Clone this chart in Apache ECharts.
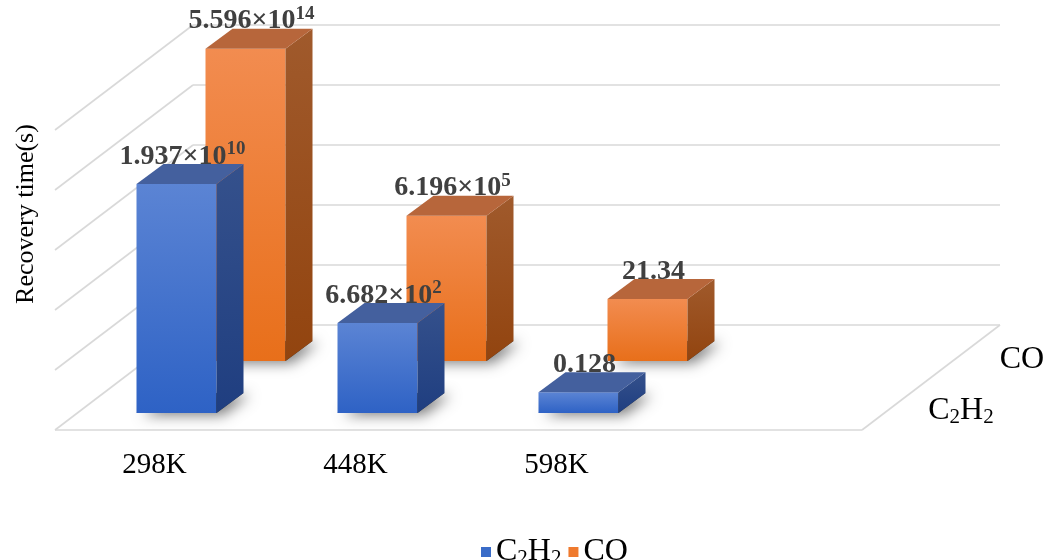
<!DOCTYPE html>
<html>
<head>
<meta charset="utf-8">
<script src="https://cdn.jsdelivr.net/npm/echarts@6/dist/echarts.min.js"></script>
<style>
  html, body { margin: 0; padding: 0; background: #fff; }
  #main { width: 1046px; height: 560px; }
</style>
</head>
<body>
<div id="main"></div>
<script>
// 数据
const categories = ['298K', '448K', '598K'];
const rowNames = ['C2H2', 'CO'];
const c2h2Values = [1.937e10, 668.2, 0.128];
const coValues = [5.596e14, 6.196e5, 21.34];
// 柱顶标签（科学计数法，上标用 rich 的 sup）
const c2h2Labels = ['1.937×10{sup|10}', '6.682×10{sup|2}', '0.128'];
const coLabels = ['5.596×10{sup|14}', '6.196×10{sup|5}', '21.34'];

const SERIF = '"Liberation Serif", "Times New Roman", serif';
const BAR_W = 80;            // 柱子正面宽度
const DEPTH = [27, -20];     // 柱子厚度（斜投影）
const ROW_SHIFT = [69, -52]; // 后排（CO）相对前排的偏移

// 地板 + 两面墙
const FLOOR = { x0: 55, x1: 862, y: 430, dx: 138, dy: -105 };
const WALL_STEP = 60;
const WALL_LINES = 5;
const LINE_COLOR = '#d9d9d9';

const PALETTE = {
  C2H2: {
    legend: '#3a6cc8',
    front: ['#5b84d4', '#2e62c5'],
    side: ['#35518c', '#1f3e80'],
    top: '#44609e',
  },
  CO: {
    legend: '#ef7a2e',
    front: ['#f28c50', '#e86f1a'],
    side: ['#a05a2c', '#92440f'],
    top: '#b7663b',
  },
};

function vGrad(stops) {
  return new echarts.graphic.LinearGradient(0, 0, 0, 1, [
    { offset: 0, color: stops[0] },
    { offset: 1, color: stops[1] },
  ]);
}

function subRich(size) {
  return {
    a: { fontFamily: SERIF, fontSize: size, lineHeight: size + 2, color: '#000' },
    s: { fontFamily: SERIF, fontSize: Math.round(size * 0.65), lineHeight: 10, verticalAlign: 'bottom', color: '#000' },
  };
}
function chemText(name) {
  return name === 'C2H2' ? '{a|C}{s|2}{a|H}{s|2}' : '{a|' + name + '}';
}

function frameGraphics() {
  const els = [];
  const line = (x1, y1, x2, y2) => els.push({
    type: 'line', silent: true, z: 0,
    shape: { x1, y1, x2, y2 },
    style: { stroke: LINE_COLOR, lineWidth: 1.6 },
  });
  const bx = FLOOR.x0 + FLOOR.dx;
  const by = FLOOR.y + FLOOR.dy;
  line(FLOOR.x0, FLOOR.y, FLOOR.x1, FLOOR.y);
  line(FLOOR.x1, FLOOR.y, FLOOR.x1 + FLOOR.dx, by);
  for (let k = 0; k <= WALL_LINES; k++) {
    const off = k * WALL_STEP;
    line(bx, by - off, FLOOR.x1 + FLOOR.dx, by - off);
    line(FLOOR.x0, FLOOR.y - off, bx, by - off);
  }
  return els;
}

function barRenderer(shift, pal, texts) {
  return function (params, api) {
    const top = api.coord([api.value(0), api.value(1)]);
    const cs = params.coordSys;
    const cx = top[0] + shift[0];
    const x0 = cx - BAR_W / 2;
    const x1 = cx + BAR_W / 2;
    const yb = cs.y + cs.height + shift[1];
    const yt = top[1] + shift[1];
    const dx = DEPTH[0], dy = DEPTH[1];
    return {
      type: 'group',
      children: [
        { // 地面阴影：底面本身被柱体挡住，只露出模糊的投影
          type: 'polygon',
          shape: { points: [[x0, yb], [x1, yb], [x1 + dx, yb + dy], [x0 + dx, yb + dy]] },
          style: { fill: 'rgba(0,0,0,0.7)', shadowBlur: 14, shadowColor: 'rgba(0,0,0,0.75)', shadowOffsetX: 6, shadowOffsetY: 2 },
        },
        {
          type: 'rect',
          shape: { x: x0, y: yt, width: BAR_W, height: yb - yt },
          style: { fill: vGrad(pal.front) },
        },
        {
          type: 'polygon',
          shape: { points: [[x1, yb], [x1, yt], [x1 + dx, yt + dy], [x1 + dx, yb + dy]] },
          style: { fill: vGrad(pal.side) },
        },
        {
          type: 'polygon',
          shape: { points: [[x0, yt], [x1, yt], [x1 + dx, yt + dy], [x0 + dx, yt + dy]] },
          style: { fill: pal.top },
        },
        {
          type: 'text',
          x: cx + 6,
          y: yt + dy + 9,
          style: {
            text: texts[params.dataIndex],
            align: 'center',
            verticalAlign: 'bottom',
            fill: '#404040',
            font: 'bold 28px ' + SERIF,
            lineHeight: 33,
            rich: {
              sup: { fontFamily: SERIF, fontWeight: 'bold', fontSize: 19, lineHeight: 19, verticalAlign: 'top', fill: '#404040' },
            },
          },
        },
      ],
    };
  };
}

const chart = echarts.init(document.getElementById('main'));

chart.setOption({
  animation: false,
  backgroundColor: '#fff',
  grid: { left: 76, top: 96, width: 603, height: 317, outerBoundsMode: 'none' },
  xAxis: {
    type: 'category',
    data: categories,
    axisLine: { show: false },
    axisTick: { show: false },
    axisLabel: {
      margin: 38,
      padding: [0, 44, 0, 0],
      fontFamily: SERIF,
      fontSize: 29,
      color: '#000',
    },
  },
  yAxis: {
    type: 'log',
    min: 0.01,
    max: 1e15,
    axisLine: { show: false },
    axisTick: { show: false },
    axisLabel: { show: false },
    splitLine: { show: false },
  },
  legend: {
    data: rowNames,
    left: 476,
    top: 531,
    icon: 'rect',
    itemWidth: 10,
    itemHeight: 10,
    itemGap: 7,
    formatter: chemText,
    textStyle: { rich: subRich(32) },
  },
  graphic: [
    ...frameGraphics(),
    {
      type: 'text', x: 26, y: 214, rotation: Math.PI / 2,
      style: { text: 'Recovery time(s)', font: '26px ' + SERIF, fill: '#000', align: 'center', verticalAlign: 'middle' },
    },
    {
      type: 'text', x: 1022, y: 360,
      style: { text: chemText('CO'), rich: subRich(32), align: 'center', verticalAlign: 'middle' },
    },
    {
      type: 'text', x: 961, y: 411,
      style: { text: chemText('C2H2'), rich: subRich(32), align: 'center', verticalAlign: 'middle' },
    },
  ],
  series: [
    {
      name: 'CO',
      type: 'custom',
      z: 10,
      itemStyle: { color: PALETTE.CO.legend },
      renderItem: barRenderer(ROW_SHIFT, PALETTE.CO, coLabels),
      data: coValues.map((v, i) => [i, v]),
    },
    {
      name: 'C2H2',
      type: 'custom',
      z: 11,
      itemStyle: { color: PALETTE.C2H2.legend },
      renderItem: barRenderer([0, 0], PALETTE.C2H2, c2h2Labels),
      data: c2h2Values.map((v, i) => [i, v]),
    },
  ],
});
</script>
</body>
</html>
